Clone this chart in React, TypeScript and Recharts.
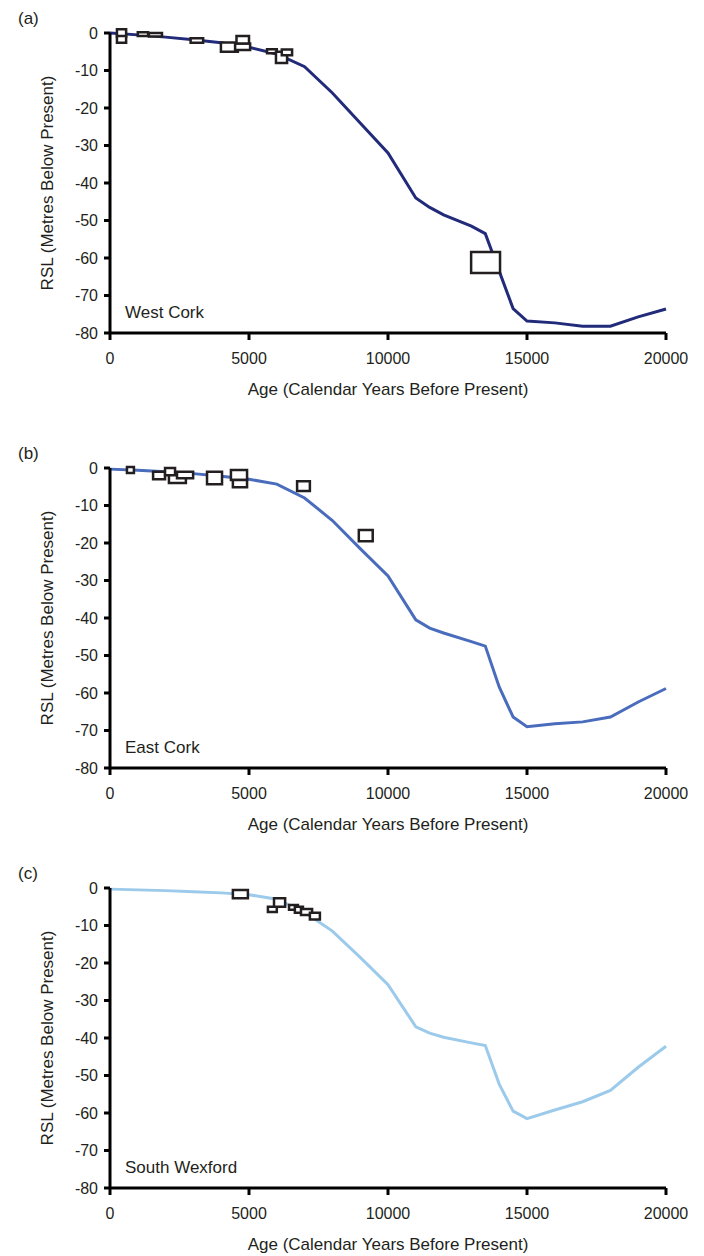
import { LineChart, Line, XAxis, YAxis, ReferenceArea } from 'recharts'

const FONT = '"Liberation Sans", Arial, sans-serif'
const INK = '#231f20'

// model ages (calendar years BP)
const AGES = [0, 1000, 2000, 3000, 4000, 5000, 6000, 7000, 8000, 9000, 10000, 11000, 11500, 12000, 13000, 13500, 14000, 14500, 15000, 16000, 17000, 18000, 19000, 20000]

// modelled RSL curves (m)
const RSL_WEST_CORK = [0, -0.5, -1.1, -1.8, -2.6, -3.8, -5.6, -9, -16, -24, -32, -44, -46.5, -48.5, -51.5, -53.5, -63.5, -73.5, -76.8, -77.3, -78.2, -78.2, -75.7, -73.6]
const RSL_EAST_CORK = [-0.3, -0.6, -1, -1.5, -2.2, -3, -4.3, -8, -14, -21.5, -28.8, -40.5, -42.7, -44, -46.3, -47.5, -58.4, -66.4, -69, -68.2, -67.7, -66.4, -62.4, -58.8]
const RSL_SOUTH_WEXFORD = [-0.3, -0.5, -0.7, -1, -1.3, -1.8, -3, -6.5, -11.5, -18.5, -25.8, -37, -38.7, -39.8, -41.3, -42, -52.3, -59.5, -61.5, -59.2, -57, -54, -47.8, -42.2]

// sea-level index points: [age min, age max, rsl top, rsl bottom]
const BOXES_WEST_CORK = [
  [250, 580, 1.0, -1.0],
  [250, 580, -0.8, -2.6],
  [1000, 1370, 0.2, -0.8],
  [1400, 1870, 0, -0.9],
  [2900, 3350, -1.4, -2.6],
  [3990, 4600, -2.5, -5.0],
  [4500, 5040, -2.8, -4.5],
  [4550, 5000, -0.8, -2.8],
  [5650, 6000, -4.3, -5.4],
  [5970, 6370, -5.0, -8.0],
  [6180, 6550, -4.4, -5.9],
  [12990, 14030, -58.4, -64],
]
const BOXES_EAST_CORK = [
  [610, 860, 0.3, -1.3],
  [1550, 1980, -1.0, -3.0],
  [1980, 2340, 0, -1.9],
  [2120, 2730, -1.9, -4.0],
  [2410, 2990, -1.0, -2.7],
  [3490, 4030, -1.0, -4.3],
  [4350, 4930, -0.5, -3.2],
  [4420, 4930, -3.2, -5.1],
  [6730, 7190, -3.5, -6.1],
  [8950, 9450, -16.5, -19.5],
]
const BOXES_SOUTH_WEXFORD = [
  [4420, 4960, -0.5, -2.7],
  [5680, 6000, -5.0, -6.4],
  [5900, 6300, -2.7, -5.0],
  [6440, 6760, -4.5, -5.8],
  [6650, 6940, -5.0, -6.6],
  [6870, 7270, -5.6, -7.2],
  [7190, 7550, -6.6, -8.4],
]

const X_TICKS = [0, 5000, 10000, 15000, 20000]
const Y_TICKS = [-80, -70, -60, -50, -40, -30, -20, -10, 0]

const PLOT_TOP = 33
const PLOT_H = 300
const CHART_H = 400

function Panel({ top, tag, site, color, rsl, boxes }) {
  const data = AGES.map((age, i) => ({ age, rsl: rsl[i] }))
  const text = { position: 'absolute', fontFamily: FONT, fontSize: 17, color: INK, whiteSpace: 'nowrap', lineHeight: '20px' } as const
  const plotBottom = top + PLOT_TOP + PLOT_H
  return (
    <>
      <div style={{ position: 'absolute', left: 0, top }}>
        <LineChart width={704} height={CHART_H} data={data} margin={{ top: PLOT_TOP, right: 38, bottom: 0, left: 0 }}>
          <XAxis
            dataKey="age"
            type="number"
            domain={[0, 20000]}
            ticks={X_TICKS}
            interval={0}
            height={CHART_H - PLOT_TOP - PLOT_H}
            axisLine={{ stroke: '#000', strokeWidth: 3 }}
            tickLine={{ stroke: '#000', strokeWidth: 3 }}
            tickSize={7}
            tickMargin={13}
            tick={{ fill: INK, fontSize: 16, fontFamily: FONT }}
          />
          <YAxis
            type="number"
            domain={[-80, 0]}
            ticks={Y_TICKS}
            interval={0}
            width={110}
            axisLine={{ stroke: '#000', strokeWidth: 3 }}
            tickLine={{ stroke: '#000', strokeWidth: 3 }}
            tickSize={6}
            tickMargin={6}
            tick={{ fill: INK, fontSize: 16, fontFamily: FONT }}
          />
          <Line dataKey="rsl" stroke={color} strokeWidth={3} dot={false} isAnimationActive={false} />
          {boxes.map((b, i) => (
            <ReferenceArea
              key={i}
              x1={b[0]}
              x2={b[1]}
              y1={b[2]}
              y2={b[3]}
              fill="#fff"
              fillOpacity={1}
              stroke={INK}
              strokeWidth={2.5}
              ifOverflow="visible"
              zIndex={700}
            />
          ))}
        </LineChart>
      </div>
      <div style={{ ...text, left: 18, top: top + PLOT_TOP - 24 }}>{tag}</div>
      <div style={{ ...text, left: 125, top: plotBottom - 30 }}>{site}</div>
      <div style={{ ...text, left: 110, width: 556, textAlign: 'center', top: plotBottom + 47 }}>
        Age (Calendar Years Before Present)
      </div>
      <div
        style={{
          ...text,
          left: 48,
          top: top + PLOT_TOP + PLOT_H / 2,
          transform: 'translate(-50%, -50%) rotate(-90deg)',
        }}
      >
        RSL (Metres Below Present)
      </div>
    </>
  )
}

export default function App() {
  return (
    <div style={{ position: 'absolute', left: 0, top: 0, width: 704, height: 1256, background: '#fff', overflow: 'hidden' }}>
      <Panel top={0} tag="(a)" site="West Cork" color="#222a7a" rsl={RSL_WEST_CORK} boxes={BOXES_WEST_CORK} />
      <Panel top={435} tag="(b)" site="East Cork" color="#4a6cbc" rsl={RSL_EAST_CORK} boxes={BOXES_EAST_CORK} />
      <Panel top={855} tag="(c)" site="South Wexford" color="#9ccaeb" rsl={RSL_SOUTH_WEXFORD} boxes={BOXES_SOUTH_WEXFORD} />
    </div>
  )
}
